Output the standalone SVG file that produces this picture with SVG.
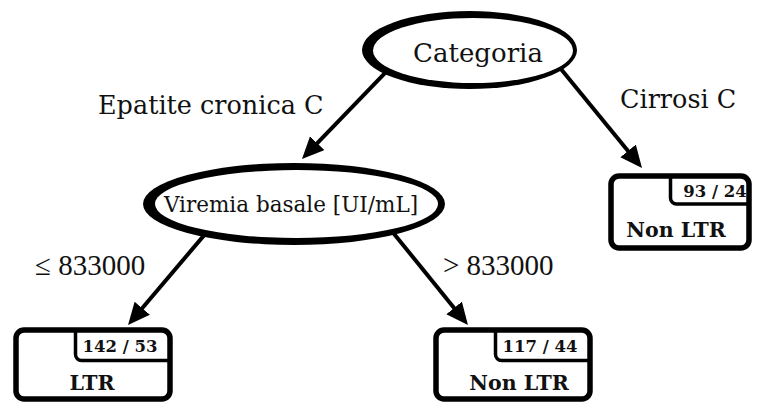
<svg xmlns="http://www.w3.org/2000/svg" width="758" height="403" viewBox="0 0 758 403">
  <style>
    .edge { stroke: #000; stroke-width: 4; fill: none; marker-end: url(#head); }
    .ring { fill: #000; }
    .face { fill: #fff; }
    .box { fill: #fff; stroke: #000; stroke-width: 5.5; }
    .tab { fill: none; stroke: #000; stroke-width: 3.5; }
    .node-label { font-family: "DejaVu Serif", serif; fill: #111; text-anchor: middle; }
    .edge-label { font-family: "DejaVu Serif", serif; font-size: 25.5px; fill: #111; }
    .math { font-family: "Liberation Serif", serif; font-size: 29px; fill: #111; }
    .count { font-family: "DejaVu Serif", serif; font-weight: bold; font-size: 16.5px; fill: #111; text-anchor: middle; }
    .cls { font-family: "DejaVu Serif", serif; font-weight: bold; font-size: 20.5px; fill: #111; text-anchor: middle; }
  </style>
  <defs>
    <marker id="head" markerUnits="userSpaceOnUse" markerWidth="24" markerHeight="22" refX="10" refY="10" orient="auto">
      <path d="M0,0 L22,10 L0,20 z" fill="#000"/>
    </marker>
  </defs>

  <g id="connectors">
    <line class="edge" x1="389" y1="68.8" x2="310.3" y2="150.4"/>
    <line class="edge" x1="558.7" y1="66.3" x2="634.4" y2="158.7"/>
    <line class="edge" x1="209.7" y1="228.6" x2="135.8" y2="315.8"/>
    <line class="edge" x1="385.6" y1="223.4" x2="460.4" y2="315.7"/>
    <text class="edge-label" x="98" y="114">Epatite cronica C</text>
    <text class="edge-label" x="620" y="108">Cirrosi C</text>
    <text class="math" x="35" y="275">≤ 833000</text>
    <text class="math" x="443" y="275">&gt; 833000</text>
  </g>

  <g id="categoria">
    <ellipse class="ring" cx="469.5" cy="50" rx="107.5" ry="39"/>
    <ellipse class="face" cx="473" cy="50.5" rx="100" ry="32.5"/>
    <text class="node-label" x="478" y="62" font-size="26">Categoria</text>
  </g>

  <g id="viremia">
    <ellipse class="ring" cx="294" cy="204" rx="151" ry="41"/>
    <ellipse class="face" cx="296.5" cy="204" rx="141.5" ry="34"/>
    <text class="node-label" x="291" y="212" font-size="21.5">Viremia basale [UI/mL]</text>
  </g>

  <g id="leaf-cirrosi">
    <rect class="box" x="611" y="176" width="138" height="72" rx="8"/>
    <path class="tab" d="M670.5,176 V198 a6,6 0 0 0 6,6 H749"/>
    <text class="count" x="715" y="197">93 / 24</text>
    <text class="cls" x="676" y="237">Non LTR</text>
  </g>

  <g id="leaf-low">
    <rect class="box" x="16" y="330" width="154" height="69" rx="8"/>
    <path class="tab" d="M75.5,330 V354.5 a6,6 0 0 0 6,6 H170"/>
    <text class="count" x="120" y="352">142 / 53</text>
    <text class="cls" x="92" y="390">LTR</text>
  </g>

  <g id="leaf-high">
    <rect class="box" x="436" y="330" width="154" height="69" rx="8"/>
    <path class="tab" d="M495.5,330 V354.5 a6,6 0 0 0 6,6 H590"/>
    <text class="count" x="540" y="352">117 / 44</text>
    <text class="cls" x="519" y="390">Non LTR</text>
  </g>
</svg>
